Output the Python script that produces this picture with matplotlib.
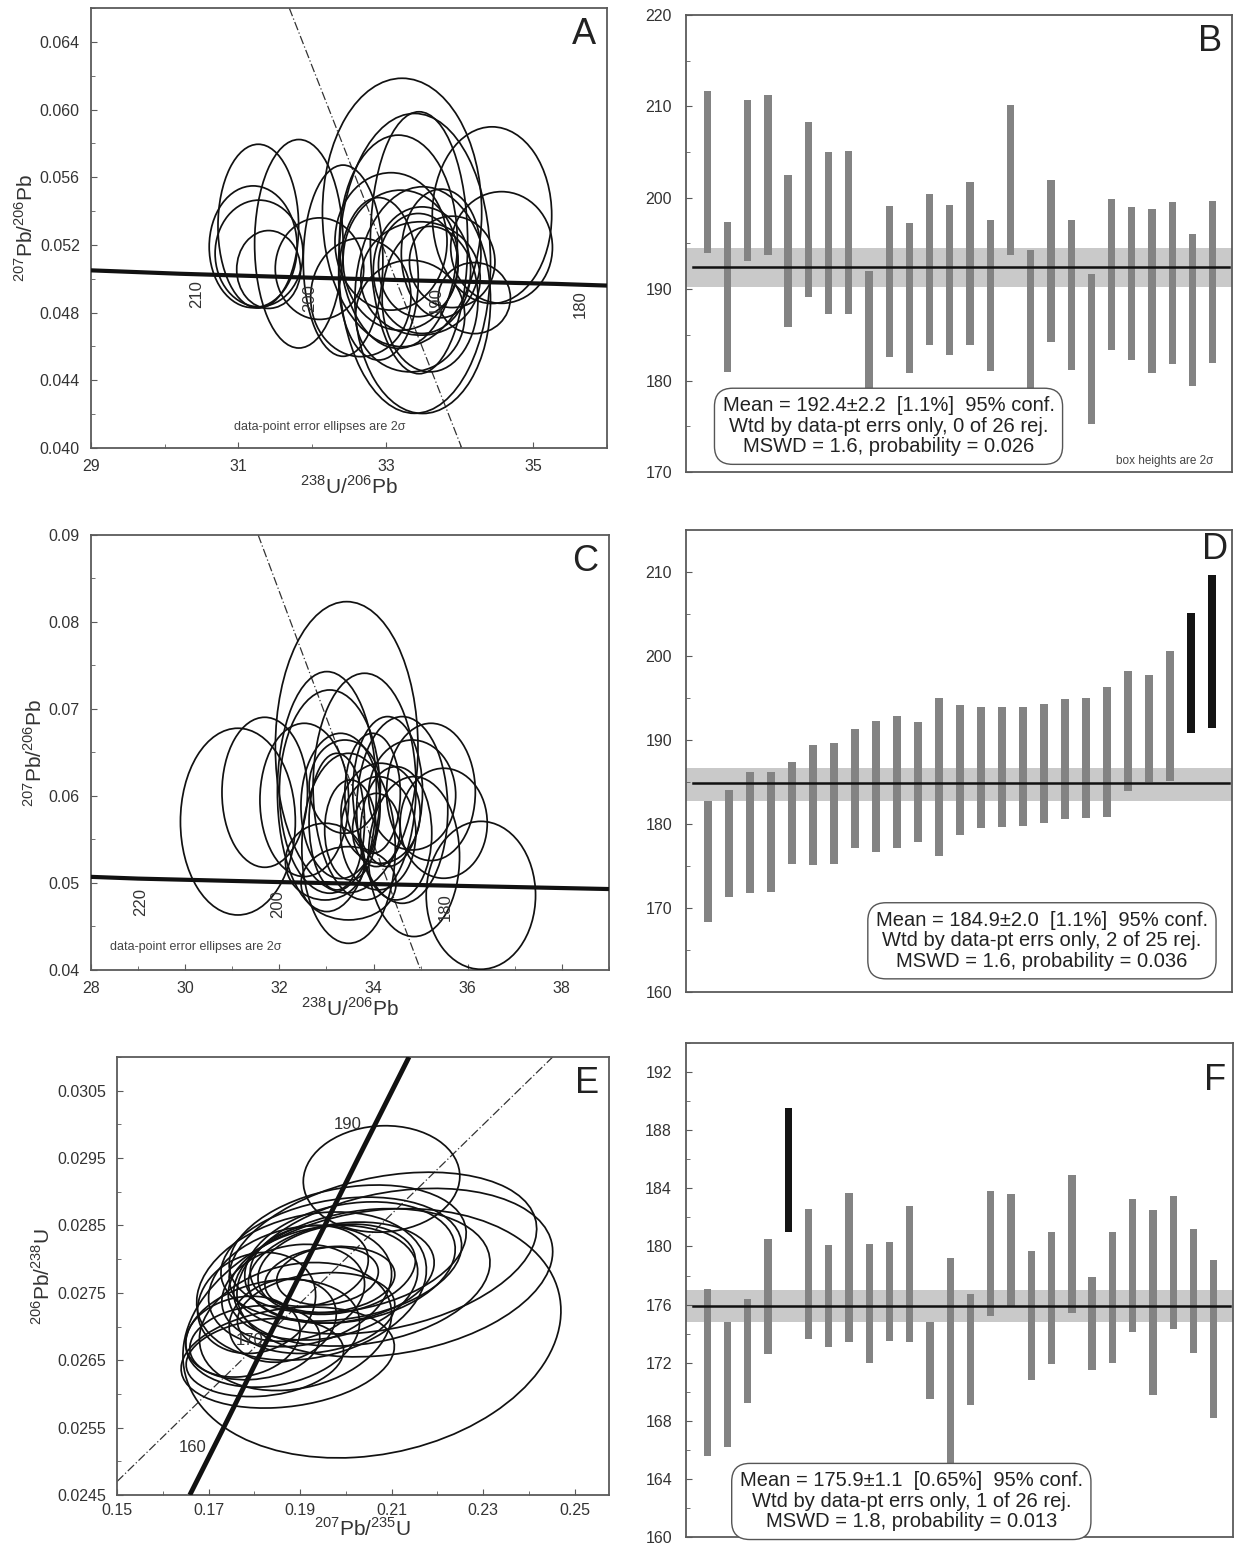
"""Concordia + weighted mean age panels (A-F)."""
import numpy as np
import matplotlib.pyplot as plt
from matplotlib.patches import Ellipse
from matplotlib import transforms
from matplotlib.ticker import FormatStrFormatter

plt.rcParams["font.family"] = ["Liberation Sans", "DejaVu Sans"]
plt.rcParams["mathtext.fontset"] = "custom"
plt.rcParams["mathtext.rm"] = "Liberation Sans"

# ---------------- panel A: Tera-Wasserburg ellipses ----------------
A_cx = [31.27, 31.20, 31.28, 31.41, 31.82, 32.42, 33.22, 33.39, 33.45, 34.44, 34.57, 33.17, 33.07,
        33.20, 33.49, 33.44, 33.47, 33.60, 32.66, 33.33, 33.50, 34.20, 33.90, 32.90, 32.10, 33.75]
A_cy = [0.05311, 0.05189, 0.05150, 0.05055, 0.05207, 0.05107, 0.05392, 0.05091, 0.05213, 0.05376,
        0.05185, 0.05219, 0.05221, 0.05110, 0.05051, 0.05081, 0.05002, 0.04880, 0.04890, 0.04780,
        0.04874, 0.04886, 0.05100, 0.05000, 0.05060, 0.05150]
A_sx = [0.547, 0.596, 0.596, 0.433, 0.600, 0.540, 1.080, 1.030, 0.660, 0.810, 0.690, 0.800, 0.760,
        0.780, 0.660, 0.540, 0.810, 0.650, 0.680, 0.740, 0.920, 0.490, 0.580, 0.540, 0.600, 0.540]
A_sy = [0.00484, 0.00360, 0.00315, 0.00230, 0.00616, 0.00565, 0.00793, 0.00886, 0.00774, 0.00522,
        0.00330, 0.00630, 0.00406, 0.00414, 0.00374, 0.00305, 0.00335, 0.00430, 0.00350, 0.00330,
        0.00670, 0.00210, 0.00270, 0.00480, 0.00300, 0.00380]
A_conc_x = [29.0, 30.2, 31.7, 33.4, 35.3, 36.0]
A_conc_y = [0.0505, 0.0503, 0.0501, 0.0499, 0.0497, 0.0496]
A_ages = ["210", "200", "190", "180"]
A_age_x = [30.43, 31.97, 33.69, 35.64]
A_age_y = [0.0502, 0.0500, 0.0498, 0.0496]
A_ref_x = [31.69, 34.03]
A_ref_y = [0.066, 0.040]

# ---------------- panel C ----------------
C_cx = [33.43, 31.12, 31.69, 32.53, 33.01, 33.81, 33.07, 35.22, 35.49, 36.28, 34.86, 33.30, 33.47,
        34.30, 34.15, 34.10, 32.97, 33.47, 33.98, 33.39, 34.61, 33.22, 34.06, 34.82, 33.51, 34.48]
C_cy = [0.06559, 0.05705, 0.06042, 0.05954, 0.06050, 0.06107, 0.06050, 0.06046, 0.05686, 0.04858,
        0.05303, 0.05885, 0.05398, 0.06050, 0.05801, 0.05571, 0.05245, 0.04996, 0.06030, 0.06107,
        0.05839, 0.05705, 0.05609, 0.06011, 0.05609, 0.05571]
C_sx = [1.514, 1.220, 0.908, 0.942, 1.051, 1.093, 1.068, 0.942, 0.925, 1.161, 0.967, 0.841, 0.992,
        0.740, 0.841, 0.799, 0.841, 1.009, 0.589, 0.757, 0.967, 0.589, 0.505, 0.925, 0.547, 0.757]
C_sy = [0.01674, 0.01073, 0.00862, 0.00881, 0.01379, 0.01303, 0.01168, 0.00789, 0.00632, 0.00850,
        0.00919, 0.00835, 0.01092, 0.00862, 0.00575, 0.00651, 0.00441, 0.00421, 0.00690, 0.00536,
        0.01073, 0.00785, 0.00421, 0.00632, 0.00575, 0.00766]
C_conc_x = [28.0, 29.0, 32.0, 35.5, 39.0]
C_conc_y = [0.0507, 0.0505, 0.0501, 0.0497, 0.0493]
C_ages = ["220", "200", "180"]
C_age_x = [29.06, 31.96, 35.53]
C_age_y = [0.0500, 0.0497, 0.0494]
C_ref_x = [31.55, 35.0]
C_ref_y = [0.090, 0.040]

# ---------------- panel E: Wetherill ----------------
E_cx = [0.2078, 0.2057, 0.2081, 0.2107, 0.1873, 0.1823, 0.1801, 0.2004, 0.1990, 0.2035, 0.1990,
        0.1965, 0.1960, 0.1862, 0.1805, 0.1935, 0.1980, 0.1885, 0.1900, 0.2009, 0.1920, 0.1775,
        0.1925, 0.1950, 0.1840, 0.1890]
E_cy = [0.02919, 0.02690, 0.02809, 0.02780, 0.02654, 0.02654, 0.02676, 0.02815, 0.02800, 0.02773,
        0.02780, 0.02770, 0.02775, 0.02709, 0.02735, 0.02720, 0.02785, 0.02750, 0.02760, 0.02795,
        0.02790, 0.02685, 0.02760, 0.02765, 0.02690, 0.02700]
E_sx = [0.0171, 0.0413, 0.0336, 0.0345, 0.0233, 0.0172, 0.0142, 0.0259, 0.0263, 0.0280, 0.0203,
        0.0142, 0.0111, 0.0117, 0.0129, 0.0172, 0.0172, 0.0156, 0.0200, 0.0230, 0.0129, 0.0125,
        0.0251, 0.0207, 0.0190, 0.0210]
E_sy = [0.00079, 0.00185, 0.00120, 0.00125, 0.00075, 0.00058, 0.00055, 0.00095, 0.00092, 0.00102,
        0.00075, 0.00049, 0.00043, 0.00062, 0.00075, 0.00060, 0.00067, 0.00072, 0.00090, 0.00090,
        0.00060, 0.00060, 0.00110, 0.00085, 0.00080, 0.00095]
E_rho = [0.05, 0.18, 0.30, 0.25, 0.22, 0.18, 0.15, 0.25, 0.22, 0.22, 0.20, 0.15, 0.15, 0.15, 0.15,
         0.20, 0.20, 0.18, 0.20, 0.22, 0.15, 0.15, 0.22, 0.20, 0.20, 0.20]
E_conc_x = [0.1659, 0.1733, 0.1806, 0.1880, 0.1954, 0.2027, 0.2101, 0.2138]
E_conc_y = [0.0245, 0.0255, 0.0265, 0.0275, 0.0285, 0.0295, 0.0305, 0.0310]
E_ages = ["190", "170", "160"]
E_age_x = [0.2005, 0.1790, 0.1665]
E_age_y = [0.0300, 0.0268, 0.0252]
E_ref_x = [0.150, 0.2452]
E_ref_y = [0.0247, 0.0310]

# ---------------- weighted mean panels ----------------
B_top = [211.7, 197.4, 210.7, 211.3, 202.5, 208.3, 205.0, 205.1, 192.0, 199.1, 197.2, 200.4, 199.2,
         201.7, 197.6, 210.2, 194.3, 201.9, 197.6, 191.7, 199.9, 199.0, 198.8, 199.5, 196.0, 199.7]
B_bot = [194.0, 180.9, 193.1, 193.7, 185.9, 189.2, 187.3, 187.3, 172.5, 182.6, 180.8, 183.9, 182.8,
         183.9, 181.0, 193.7, 176.5, 184.2, 181.2, 175.3, 183.4, 182.3, 180.8, 181.8, 179.4, 181.9]
B_rej = []
B_mean, B_lo, B_hi = 192.4, 190.2, 194.5

D_top = [182.7, 184.0, 186.2, 186.2, 187.4, 189.4, 189.6, 191.3, 192.3, 192.9, 192.2, 195.0, 194.2,
         193.9, 194.0, 194.0, 194.3, 194.9, 195.0, 196.3, 198.2, 197.7, 200.6, 205.1, 209.6]
D_bot = [168.3, 171.3, 171.8, 171.9, 175.2, 175.1, 175.2, 177.1, 176.7, 177.1, 177.9, 176.2, 178.7,
         179.5, 179.6, 179.8, 180.1, 180.6, 180.7, 180.8, 183.9, 185.0, 185.1, 190.8, 191.4]
D_rej = [23, 24]
D_mean, D_lo, D_hi = 184.9, 182.7, 186.7

F_top = [177.1, 174.8, 176.4, 180.5, 189.5, 182.6, 180.1, 183.7, 180.2, 180.3, 182.8, 174.8, 179.2,
         176.7, 183.8, 183.6, 179.7, 181.0, 184.9, 177.9, 181.0, 183.3, 182.5, 183.5, 181.2, 179.1]
F_bot = [165.6, 166.2, 169.2, 172.6, 181.0, 173.6, 173.1, 173.4, 172.0, 173.5, 173.4, 169.5, 164.0,
         169.1, 175.2, 175.9, 170.8, 171.9, 175.4, 171.5, 172.0, 174.1, 169.8, 174.3, 172.7, 168.2]
F_rej = [4]
F_mean, F_lo, F_hi = 175.9, 174.8, 177.0

B_text = "Mean = 192.4\u00b12.2  [1.1%]  95% conf.\nWtd by data-pt errs only, 0 of 26 rej.\nMSWD = 1.6, probability = 0.026"
D_text = "Mean = 184.9\u00b12.0  [1.1%]  95% conf.\nWtd by data-pt errs only, 2 of 25 rej.\nMSWD = 1.6, probability = 0.036"
F_text = "Mean = 175.9\u00b11.1  [0.65%]  95% conf.\nWtd by data-pt errs only, 1 of 26 rej.\nMSWD = 1.8, probability = 0.013"

SPINE = "#5a5a5a"
TXT = "#333333"


def style_axes(ax, pad=8):
    for s in ax.spines.values():
        s.set_color(SPINE)
        s.set_linewidth(1.3)
    ax.tick_params(which="both", direction="in", colors=SPINE, labelcolor=TXT, labelsize=11.5,
                   pad=pad)
    ax.tick_params(which="major", length=4)
    ax.tick_params(which="minor", length=3)


def add_ellipse(ax, cx, cy, sx, sy, rho=0.0):
    e = Ellipse((0, 0), width=2 * np.sqrt(1 + rho), height=2 * np.sqrt(1 - rho),
                fill=False, ec="#111111", lw=1.25, zorder=3)
    t = transforms.Affine2D().rotate_deg(45).scale(sx, sy).translate(cx, cy)
    e.set_transform(t + ax.transData)
    ax.add_patch(e)


def concordia_panel(ax, cx, cy, sx, sy, rho, conc_x, conc_y, ages, age_x, age_y, ref_x, ref_y,
                    xlim, ylim, xt, xm, yt, ym, yfmt, xfmt, letter, rot_labels=True,
                    note_xy=None, xlabel="", ylabel="", conc_lw=3.0, xpad=8, xlabelpad=1):
    style_axes(ax)
    ax.tick_params(axis="x", pad=xpad)
    for i in range(len(cx)):
        add_ellipse(ax, cx[i], cy[i], sx[i], sy[i], rho[i])
    ax.plot(conc_x, conc_y, color="#111111", lw=conc_lw, zorder=4, solid_capstyle="butt")
    ax.plot(ref_x, ref_y, color="#333333", lw=0.9, ls=(0, (7, 2, 1, 2)), zorder=2)
    for lab, x, y in zip(ages, age_x, age_y):
        if rot_labels:
            ax.text(x, y - 0.0003 * (ylim[1] - ylim[0]) / 0.026, lab, rotation=90, ha="center",
                    va="top", fontsize=12, color=TXT, zorder=5)
        else:
            ax.text(x, y, lab, ha="center", va="center", fontsize=12, color=TXT, zorder=5)
    ax.set_xlim(xlim)
    ax.set_ylim(ylim)
    ax.set_xticks(xt)
    ax.set_xticks(xm, minor=True)
    ax.set_yticks(yt)
    ax.set_yticks(ym, minor=True)
    ax.xaxis.set_major_formatter(FormatStrFormatter(xfmt))
    ax.yaxis.set_major_formatter(FormatStrFormatter(yfmt))
    ax.text(0.955, 0.94, letter, transform=ax.transAxes, fontsize=26, ha="center", va="center",
            color="#222222")
    if note_xy is not None:
        ax.text(note_xy[0], note_xy[1], "data-point error ellipses are 2\u03c3",
                transform=ax.transAxes, fontsize=9, ha="center", va="center", color="#444444")
    ax.set_xlabel(xlabel, fontsize=15, color=TXT, labelpad=xlabelpad)
    ax.set_ylabel(ylabel, fontsize=15, color=TXT, labelpad=2)


def mean_panel(ax, top, bot, rej, mean, lo, hi, ylim, yt, ym, text, text_xy, letter, letter_xy,
               note=False):
    style_axes(ax, pad=10)
    n = len(top)
    x = np.arange(1, n + 1)
    ax.axhspan(lo, hi, color="#c9c9c9", lw=0, zorder=1)
    colors = ["#141414" if i in rej else "#838383" for i in range(n)]
    heights = [t - b for t, b in zip(top, bot)]
    ax.bar(x, heights, bottom=bot, width=0.36, color=colors, zorder=2)
    ax.plot([0.3, n + 0.8], [mean, mean], color="#111111", lw=1.8, zorder=3)
    ax.set_xlim(-0.05, n + 0.95)
    ax.set_ylim(ylim)
    ax.set_xticks([])
    ax.set_yticks(yt)
    ax.set_yticks(ym, minor=True)
    ax.text(text_xy[0], text_xy[1], text, transform=ax.transAxes, ha="center", va="center",
            fontsize=14.5, color="#222222", linespacing=1.1, zorder=6,
            bbox=dict(boxstyle="round,pad=0.4,rounding_size=0.9", fc="white", ec="#555555",
                      lw=1.0))
    ax.text(letter_xy[0], letter_xy[1], letter, transform=ax.transAxes, fontsize=26,
            ha="center", va="center", color="#222222", zorder=6)
    if note:
        ax.text(0.877, 0.025, "box heights are 2\u03c3", transform=ax.transAxes, fontsize=8.5,
                ha="center", va="center", color="#444444", zorder=6)


fig = plt.figure(figsize=(12.36, 15.46), dpi=100)

tw_x = r"$^{238}$U/$^{206}$Pb"
tw_y = r"$^{207}$Pb/$^{206}$Pb"

axA = fig.add_axes([0.0736, 0.7102, 0.4175, 0.2846])
concordia_panel(axA, A_cx, A_cy, A_sx, A_sy, [0.0] * len(A_cx), A_conc_x, A_conc_y, A_ages,
                A_age_x, A_age_y, A_ref_x, A_ref_y, (29, 36), (0.040, 0.066),
                [29, 31, 33, 35], [30, 32, 34, 36],
                [0.040, 0.044, 0.048, 0.052, 0.056, 0.060, 0.064],
                [0.042, 0.046, 0.050, 0.054, 0.058, 0.062, 0.066],
                "%.3f", "%g", "A", note_xy=(0.444, 0.048), xlabel=tw_x, ylabel=tw_y)

axC = fig.add_axes([0.0736, 0.3726, 0.4191, 0.2814])
concordia_panel(axC, C_cx, C_cy, C_sx, C_sy, [0.0] * len(C_cx), C_conc_x, C_conc_y, C_ages,
                C_age_x, C_age_y, C_ref_x, C_ref_y, (28, 39), (0.04, 0.09),
                [28, 30, 32, 34, 36, 38], [29, 31, 33, 35, 37, 39],
                [0.04, 0.05, 0.06, 0.07, 0.08, 0.09],
                [0.045, 0.055, 0.065, 0.075, 0.085],
                "%.2f", "%g", "C", note_xy=(0.203, 0.053), xlabel=tw_x, ylabel=tw_y)

axE = fig.add_axes([0.0947, 0.033, 0.398, 0.2833])
concordia_panel(axE, E_cx, E_cy, E_sx, E_sy, E_rho, E_conc_x, E_conc_y, E_ages,
                E_age_x, E_age_y, E_ref_x, E_ref_y, (0.15, 0.2575), (0.0245, 0.0310),
                [0.15, 0.17, 0.19, 0.21, 0.23, 0.25], [0.16, 0.18, 0.20, 0.22, 0.24],
                [0.0245, 0.0255, 0.0265, 0.0275, 0.0285, 0.0295, 0.0305],
                [0.0250, 0.0260, 0.0270, 0.0280, 0.0290, 0.0300, 0.0310],
                "%.4f", "%.2f", "E", rot_labels=False,
                xlabel=r"$^{207}$Pb/$^{235}$U", ylabel=r"$^{206}$Pb/$^{238}$U", conc_lw=3.5,
                xpad=6, xlabelpad=-1)

axB = fig.add_axes([0.555, 0.6947, 0.4417, 0.2956])
mean_panel(axB, B_top, B_bot, B_rej, B_mean, B_lo, B_hi, (170, 220),
           [170, 180, 190, 200, 210, 220], [175, 185, 195, 205, 215],
           B_text, (0.371, 0.10), "B", (0.96, 0.941), note=True)

axD = fig.add_axes([0.555, 0.3583, 0.4417, 0.2988])
mean_panel(axD, D_top, D_bot, D_rej, D_mean, D_lo, D_hi, (160, 215),
           [160, 170, 180, 190, 200, 210], [165, 175, 185, 195, 205],
           D_text, (0.652, 0.111), "D", (0.969, 0.957))

axF = fig.add_axes([0.555, 0.0058, 0.4425, 0.3195])
mean_panel(axF, F_top, F_bot, F_rej, F_mean, F_lo, F_hi, (160, 194),
           [160, 164, 168, 172, 176, 180, 184, 188, 192],
           [162, 166, 170, 174, 178, 182, 186, 190, 194],
           F_text, (0.412, 0.072), "F", (0.967, 0.925))

fig.savefig("out.png", dpi=100)
plt.close(fig)
